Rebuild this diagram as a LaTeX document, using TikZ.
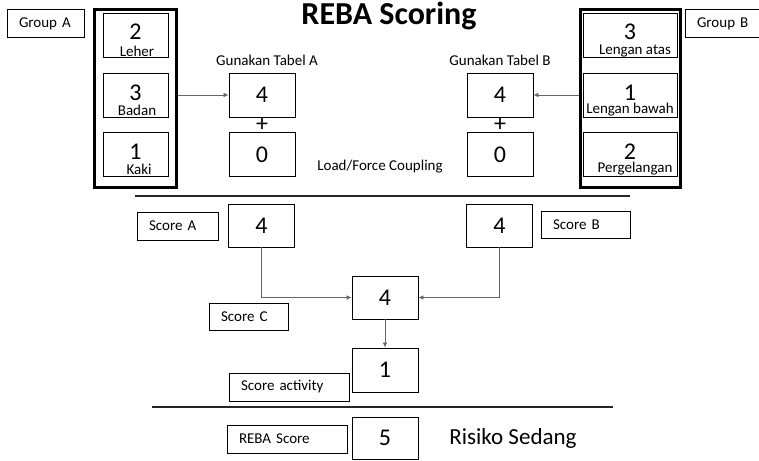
\documentclass[tikz,border=0pt]{standalone}
\usepackage{fontspec}
\setmainfont{Carlito}
\usetikzlibrary{arrows.meta}
\tikzset{
  lbl/.style={draw, line width=0.9pt, inner xsep=12pt, inner ysep=0pt, align=left,
    font=\fontsize{15}{18}\selectfont, minimum height=28pt},
  numbox/.style={draw, line width=0.9pt, minimum width=66pt, minimum height=44pt,
    inner sep=0pt, font=\fontsize{24}{28}\selectfont},
  grpframe/.style={draw, line width=3pt, inner sep=0pt},
  subbox/.style={draw, line width=0.9pt, minimum height=44pt, inner sep=0pt},
  digit/.style={inner sep=0pt, font=\fontsize{24}{28}\selectfont},
  small/.style={inner sep=0pt, font=\fontsize{15}{18}\selectfont},
  plain/.style={inner sep=0pt, font=\fontsize{15}{18}\selectfont},
  conn/.style={draw=black!60, line width=0.7pt, -{Latex[length=5pt,width=4.5pt]}},
  rulel/.style={line width=2pt, black!85}
}
\begin{document}
\begin{tikzpicture}[x=1pt,y=-1pt]
\useasboundingbox (0,0) rectangle (759,460);

% title
\node[inner sep=0pt, anchor=base, font=\fontsize{32}{36}\selectfont\bfseries] (title) at (389,25) {REBA Scoring};

% Group A
\node[lbl, text width=53pt] (gA) at (45.5,23.5) {\mbox{Group A}};
\node[grpframe, minimum width=82pt, minimum height=178pt] (fA) at (135.5,98.5) {};
\node[subbox, minimum width=65pt] (bA1) at (135.5,35) {};
\node[subbox, minimum width=65pt] (bA2) at (135.5,95) {};
\node[subbox, minimum width=65pt] (bA3) at (135.5,154.5) {};
\node[digit] (nA1) at (135.5,32) {2};
\node[digit] (nA2) at (135.5,93) {3};
\node[digit] (nA3) at (135.5,152) {1};
\node[small] (tA1) at (137,51) {Leher};
\node[small] (tA2) at (137,110) {Badan};
\node[small] (tA3) at (139,169) {Kaki};

% Tabel A
\node[plain] (gtA) at (267,60) {Gunakan Tabel A};
\node[numbox] (tA4) at (262,95) {4};
\node[digit] (plusA) at (262,125) {+};
\node[numbox] (tA0) at (262,154.5) {0};

% Tabel B
\node[plain] (gtB) at (500,60) {Gunakan Tabel B};
\node[numbox] (tB4) at (500,95) {4};
\node[digit] (plusB) at (500,125) {+};
\node[numbox] (tB0) at (500,154.5) {0};

\node[plain] (lfc) at (380,167) {Load/Force Coupling};

% Group B
\node[lbl, text width=51pt] (gB) at (722.5,23.5) {\mbox{Group B}};
\node[grpframe, minimum width=100pt, minimum height=178pt] (fB) at (630.5,98.5) {};
\node[subbox, minimum width=94pt] (bB1) at (630,35) {};
\node[subbox, minimum width=94pt] (bB2) at (630,95) {};
\node[subbox, minimum width=94pt] (bB3) at (630,154.5) {};
\node[digit] (nB1) at (630,32) {3};
\node[digit] (nB2) at (630,93) {1};
\node[digit] (nB3) at (630,152) {2};
\node[small] (tB1) at (635,51) {Lengan atas};
\node[small] (tB2) at (630,110) {Lengan bawah};
\node[small] (tB3) at (635,169) {Pergelangan};

\draw[conn] (fA.east |- tA4.west) -- (tA4.west);
\draw[conn] (fB.west |- tB4.east) -- (tB4.east);

% rule 1
\coordinate (r1a) at (135,196);
\coordinate (r1b) at (630,196);
\draw[rulel] (r1a) -- (r1b);

% scores
\node[lbl, text width=57pt] (scA) at (177.5,226) {\mbox{Score A}};
\node[numbox, minimum height=43pt] (sA) at (261.5,225.5) {4};
\node[numbox, minimum height=43pt] (sB) at (499.5,225.5) {4};
\node[lbl, text width=65pt, minimum height=27pt] (scB) at (585.5,224.5) {\mbox{Score B}};
\node[numbox, minimum height=43pt] (sC) at (385,297.5) {4};
\node[lbl, text width=55pt, minimum height=27pt] (scC) at (248.5,316.5) {\mbox{Score C}};
\node[numbox] (s1) at (385,370) {1};
\node[lbl, text width=96pt] (scAct) at (289,387) {\mbox{Score activity}};

\draw[conn] (sA.south) |- (sC.west);
\draw[conn] (sB.south) |- (sC.east);
\draw[conn] (sC.south) -- (s1.north);

% rule 2
\coordinate (r2a) at (152,407);
\coordinate (r2b) at (613,407);
\draw[rulel] (r2a) -- (r2b);

% final
\node[lbl, text width=96pt] (reba) at (287,439) {\mbox{REBA Score}};
\node[numbox, minimum height=42pt] (s5) at (385,438) {5};
\node[inner sep=0pt, font=\fontsize{23}{27}\selectfont] (risk) at (513,438) {Risiko Sedang};
\end{tikzpicture}
\end{document}
